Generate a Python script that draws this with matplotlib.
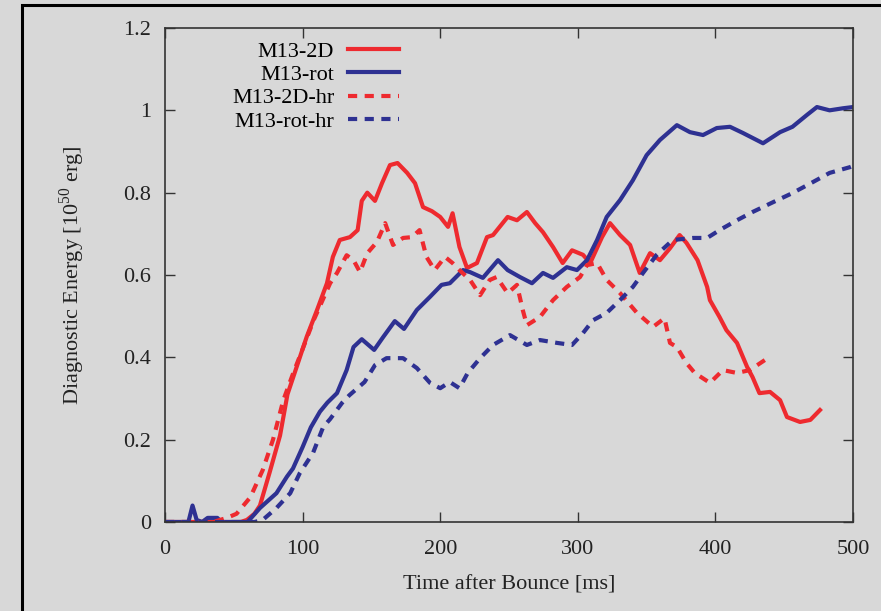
import matplotlib
matplotlib.use("Agg")
import matplotlib.pyplot as plt
from matplotlib.patches import Rectangle

plt.rcParams['font.family'] = ['Liberation Serif', 'DejaVu Serif']
plt.rcParams['mathtext.fontset'] = 'custom'
plt.rcParams['mathtext.rm'] = 'Liberation Serif'

# M13-2D
t_2d = [0, 55, 59.5, 65, 69, 76, 83.6, 89, 96, 103, 110.5, 117.7, 122, 127, 134.4, 140, 143, 147,
        152.6, 157.7, 163.5, 169, 176, 181.7, 187.5, 194, 200, 205.7, 209, 214, 219.5, 226.7, 234,
        238.4, 249, 255.8, 263, 269, 274.7, 282, 289, 295.8, 303.8, 309, 317.6, 323.4, 330.7, 338,
        345, 352.5, 359.7, 367, 374, 379, 387, 394, 396, 403, 408, 415.7, 423, 427, 432, 439.7,
        447, 452, 461.5, 469, 476]
e_2d = [0, 0, 0.005, 0.02, 0.04, 0.12, 0.21, 0.31, 0.38, 0.45, 0.515, 0.58, 0.644, 0.685, 0.692,
        0.709, 0.78, 0.80, 0.78, 0.823, 0.867, 0.872, 0.848, 0.823, 0.765, 0.755, 0.741, 0.717,
        0.75, 0.668, 0.617, 0.629, 0.692, 0.697, 0.741, 0.733, 0.753, 0.726, 0.704, 0.668, 0.629,
        0.66, 0.649, 0.629, 0.692, 0.726, 0.697, 0.673, 0.605, 0.653, 0.636, 0.665, 0.697, 0.678,
        0.636, 0.571, 0.539, 0.498, 0.466, 0.435, 0.377, 0.352, 0.313, 0.316, 0.296, 0.255, 0.243,
        0.248, 0.272]

# M13-rot
t_rot = [0, 17, 20, 23, 27, 31, 38, 41, 60, 69, 81, 88.6, 93, 100, 106, 112.6, 118, 125, 132, 137,
         143, 152, 158.5, 167, 173.7, 183, 192.6, 201, 207, 216.6, 221.7, 231, 242, 249, 258, 266.7,
         274.7, 282, 292, 299.4, 306.7, 314, 321, 330.7, 340, 350, 359.7, 372, 381.5, 391, 401,
         410.6, 420, 434.6, 447, 456, 466.6, 473.8, 483, 492.7, 500]
e_rot = [0, 0, 0.04, 0.005, 0, 0.01, 0.01, 0, 0, 0.034, 0.07, 0.11, 0.13, 0.182, 0.23, 0.268, 0.29,
         0.313, 0.369, 0.425, 0.444, 0.418, 0.449, 0.488, 0.469, 0.515, 0.547, 0.576, 0.58, 0.612,
         0.607, 0.593, 0.636, 0.612, 0.595, 0.58, 0.605, 0.593, 0.619, 0.612, 0.636, 0.685, 0.741,
         0.782, 0.83, 0.891, 0.928, 0.964, 0.947, 0.94, 0.957, 0.96, 0.945, 0.92, 0.947, 0.96,
         0.989, 1.008, 1.0, 1.005, 1.008]

# M13-2D-hr
t_2d_hr = [0, 35, 45, 52, 62, 71, 78.5, 86, 93, 100, 108, 120, 125, 132, 137, 141.7, 147, 154, 160,
           165.7, 173, 179.5, 185, 190, 196, 203.5, 209, 214, 221.7, 229, 236, 241, 249, 255.8,
           260, 263, 272.5, 282, 292, 301.6, 306.7, 314, 321, 330.7, 343, 354.7, 363, 367, 372,
           379, 385, 396, 405.5, 415.7, 425, 438]
e_2d_hr = [0, 0, 0.01, 0.02, 0.06, 0.126, 0.2, 0.296, 0.36, 0.42, 0.49, 0.58, 0.605, 0.648, 0.636,
           0.607, 0.653, 0.68, 0.726, 0.673, 0.69, 0.692, 0.709, 0.644, 0.612, 0.644, 0.629, 0.612,
           0.588, 0.551, 0.588, 0.595, 0.556, 0.576, 0.515, 0.478, 0.498, 0.539, 0.571, 0.595,
           0.624, 0.629, 0.588, 0.556, 0.508, 0.474, 0.495, 0.435, 0.425, 0.386, 0.362, 0.338,
           0.369, 0.362, 0.369, 0.398]

# M13-rot-hr
t_rot_hr = [0, 65, 71, 81, 91, 98, 107.6, 115, 120, 128.6, 134, 145, 152.6, 161, 173, 183, 192.6,
            200, 207, 214, 220, 229, 238.4, 250.7, 263, 272.5, 285, 295.8, 303.8, 311, 321, 330.7,
            340, 347.4, 357.6, 369, 383.7, 394, 403, 415.7, 427, 442, 456, 471, 483, 497.8, 500]
e_rot_hr = [0, 0, 0.005, 0.034, 0.07, 0.119, 0.168, 0.231, 0.25, 0.289, 0.308, 0.34, 0.381, 0.398,
            0.398, 0.374, 0.338, 0.325, 0.34, 0.325, 0.362, 0.398, 0.43, 0.454, 0.43, 0.442, 0.435,
            0.43, 0.459, 0.49, 0.508, 0.539, 0.571, 0.605, 0.65, 0.685, 0.69, 0.69, 0.709, 0.733,
            0.753, 0.777, 0.799, 0.826, 0.848, 0.862, 0.865]

xticks = [0, 100, 200, 300, 400, 500]
yticks = [0, 0.2, 0.4, 0.6, 0.8, 1.0, 1.2]
ytick_labels = ["0", "0.2", "0.4", "0.6", "0.8", "1", "1.2"]

red = "#ee2a2f"
blue = "#2e3192"
bg = "#d8d8d8"

fig = plt.figure(figsize=(8.81, 6.11), dpi=100, facecolor=bg)
ax = fig.add_axes([165/881, 1 - 522/611, (853-165)/881, (522-28)/611])
ax.set_facecolor(bg)

# outer frame (only top and left edge visible)
fig.add_artist(Rectangle((22/881, -0.2), 1.5, 1.2 - 4.5/611, transform=fig.transFigure,
                         fill=False, edgecolor="black", linewidth=2.2))

ax.plot(t_2d, e_2d, color=red, lw=3, label="M13-2D", solid_joinstyle="round")
ax.plot(t_rot, e_rot, color=blue, lw=3, label="M13-rot", solid_joinstyle="round")
ax.plot(t_2d_hr, e_2d_hr, color=red, lw=3, ls=(0, (2.2, 1.8)), label="M13-2D-hr")
ax.plot(t_rot_hr, e_rot_hr, color=blue, lw=3, ls=(0, (2.2, 1.8)), label="M13-rot-hr")

ax.set_xlim(0, 500)
ax.set_ylim(0, 1.2)
ax.set_xticks(xticks)
ax.set_yticks(yticks)
ax.set_yticklabels(ytick_labels)
ax.tick_params(direction="in", length=7, width=1, top=True, right=True, labelsize=16,
               color="#333333", labelcolor="#222222")
ax.tick_params(axis="y", pad=10)
ax.tick_params(axis="x", pad=13)
for s in ax.spines.values():
    s.set_color("#333333")
    s.set_linewidth(1.2)

ax.set_xlabel("Time after Bounce [ms]", fontsize=16, color="#222222", labelpad=12)
ax.set_ylabel("Diagnostic Energy [10$^{50}$ erg]", fontsize=16, color="#222222", labelpad=26)

ax.legend(loc="upper left", bbox_to_anchor=(0.078, 1.0), frameon=False, markerfirst=False,
          fontsize=16, handlelength=2.3, handletextpad=0.6, labelspacing=0.12, borderaxespad=0.2)

fig.savefig("out.png", dpi=100, facecolor=bg)
